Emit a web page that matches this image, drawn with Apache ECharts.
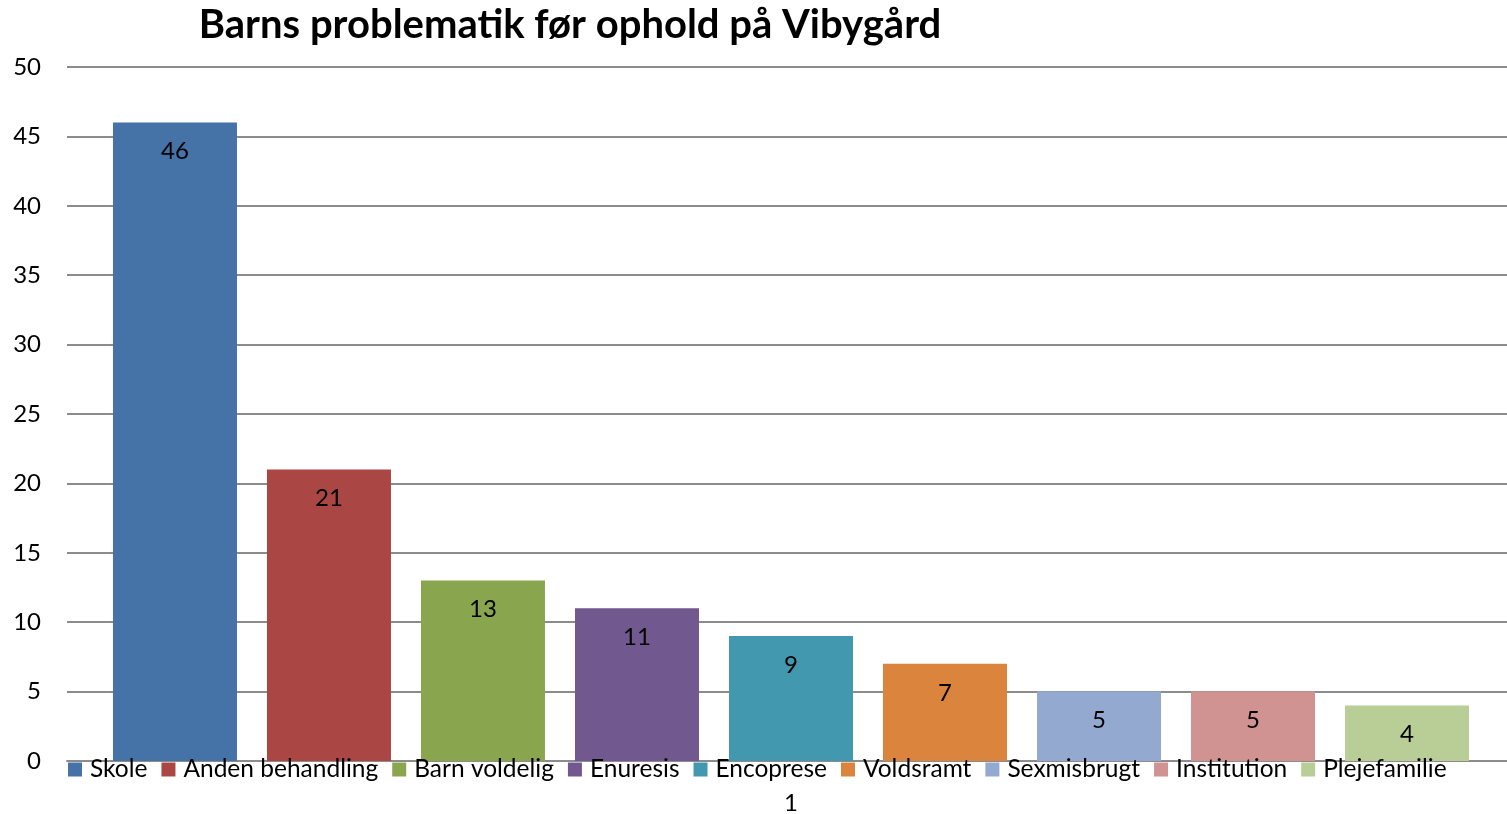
<!DOCTYPE html>
<html><head><meta charset="utf-8">
<script src="https://cdn.jsdelivr.net/npm/echarts@6/dist/echarts.min.js"></script>
<style>html,body{margin:0;padding:0;background:#fff}#c{width:1507px;height:814px}</style>
</head><body><div id="c"></div>
<script>
const categories = ['1'];
const seriesNames = ['Skole','Anden behandling','Barn voldelig','Enuresis','Encoprese','Voldsramt','Sexmisbrugt','Institution','Plejefamilie'];
const seriesValues = [46, 21, 13, 11, 9, 7, 5, 5, 4];
const colors = ['#4572A7','#AA4643','#89A54E','#71588F','#4198AF','#DB843D','#93A9CF','#D19392','#B9CD96'];
const yTicks = [0, 5, 10, 15, 20, 25, 30, 35, 40, 45, 50];

const FONT = 'Lato';
const chart = echarts.init(document.getElementById('c'), null, {renderer:'canvas'});
chart.setOption({
  animation:false,
  title:{text:'Barns problematik før ophold på Vibygård', left:565, textAlign:'center', top:0,
    textStyle:{fontFamily:FONT, fontWeight:'bold', fontSize:40, color:'#000'}},
  legend:{left:68, top:757, padding:0, itemWidth:14, itemHeight:14, itemGap:14, icon:'rect',
    textStyle:{fontFamily:FONT, fontSize:24.5, color:'#000', padding:[0,0,0,3]},
    data:seriesNames},
  grid:{left:67, top:67, right:-8, bottom:53, containLabel:false, outerBoundsMode:'none'},
  xAxis:{type:'category', data:categories,
    axisLine:{lineStyle:{color:'#8c8c8c', width:2}}, axisTick:{show:false},
    axisLabel:{fontFamily:FONT, fontSize:24, color:'#000', margin:30}},
  yAxis:{type:'value', min:yTicks[0], max:yTicks[yTicks.length-1], interval:5,
    axisLine:{show:false}, axisTick:{show:false},
    axisLabel:{fontFamily:FONT, fontSize:24, color:'#000', margin:26},
    splitLine:{lineStyle:{color:'#8c8c8c', width:2}}},
  series: seriesNames.map((n,i)=>({
    name:n, type:'bar', data:[seriesValues[i]], barWidth:124, barGap:'24.2%',
    itemStyle:{color:colors[i]},
    label:{show:true, position:'insideTop', distance:17, fontFamily:FONT, fontSize:24, color:'#000'}
  }))
});
</script></body></html>
